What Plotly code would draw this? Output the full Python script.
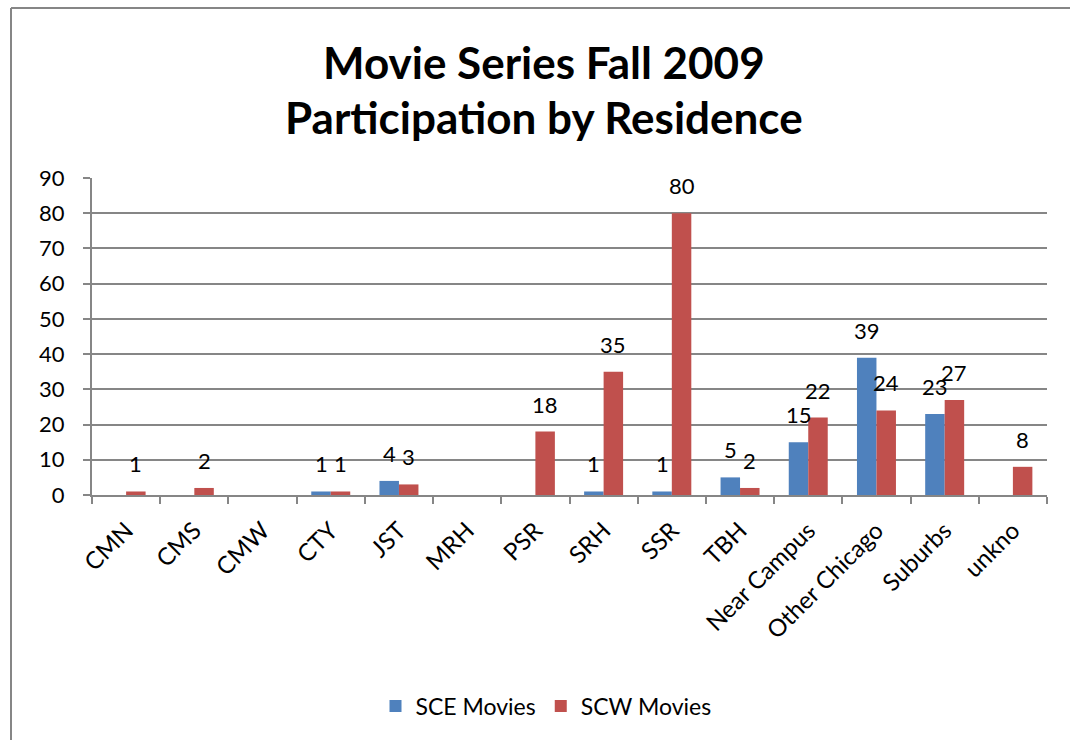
import plotly.graph_objects as go

categories = ["CMN", "CMS", "CMW", "CTY", "JST", "MRH", "PSR", "SRH", "SSR", "TBH",
              "Near Campus", "Other Chicago", "Suburbs", "unkno"]
sce_movies = [None, None, None, 1, 4, None, None, 1, 1, 5, 15, 39, 23, None]
scw_movies = [1, 2, None, 1, 3, None, 18, 35, 80, 2, 22, 24, 27, 8]
y_ticks = [0, 10, 20, 30, 40, 50, 60, 70, 80, 90]

BLUE = "#4F81BD"
RED = "#C0504D"
GRID = "#868686"
FONT = "Lato"

W, H = 1070, 740
ML, MR, MT, MB = 92, 23, 178, 245
plot_w = W - ML - MR
plot_h = H - MT - MB
bargap = 1.5 / 3.5
bar_px = plot_w / len(categories) * (1 - bargap) / 2


def py(pix):
    """pixel row -> paper y"""
    return (H - MB - pix) / plot_h


def px(pix):
    return (pix - ML) / plot_w


fig = go.Figure()
fig.add_trace(go.Bar(name="SCE Movies", x=categories, y=sce_movies,
                     marker=dict(color=BLUE, line=dict(width=0))))
fig.add_trace(go.Bar(name="SCW Movies", x=categories, y=scw_movies,
                     marker=dict(color=RED, line=dict(width=0))))

annotations = []
for vals, shift in ((sce_movies, -bar_px / 2), (scw_movies, bar_px / 2)):
    for c, v in zip(categories, vals):
        if v is None:
            continue
        annotations.append(dict(x=c, y=v, xref="x", yref="y", text=str(v),
                                showarrow=False, yanchor="bottom", xanchor="center",
                                xshift=shift, yshift=12,
                                font=dict(family=FONT, size=22, color="#000000")))

annotations.append(dict(text="<b>Movie Series Fall 2009</b>", xref="paper", yref="paper",
                        x=px(544), y=py(62), xanchor="center", yanchor="middle",
                        showarrow=False, font=dict(family=FONT, size=44, color="#000000")))
annotations.append(dict(text="<b>Participation by Residence</b>", xref="paper", yref="paper",
                        x=px(544), y=py(117), xanchor="center", yanchor="middle",
                        showarrow=False, font=dict(family=FONT, size=44, color="#000000")))

fig.update_layout(
    width=W, height=H,
    margin=dict(l=ML, r=MR, t=MT, b=MB),
    paper_bgcolor="white", plot_bgcolor="white",
    barmode="group", bargap=bargap, bargroupgap=0,
    font=dict(family=FONT, size=22, color="#000000"),
    showlegend=True,
    legend=dict(orientation="h", x=px(546), xanchor="center", xref="paper",
                y=py(706), yanchor="middle", yref="paper",
                font=dict(family=FONT, size=23), traceorder="normal",
                itemwidth=30),
    annotations=annotations,
    shapes=[
        dict(type="line", xref="paper", yref="paper", x0=px(11), x1=px(1075),
             y0=py(8), y1=py(8), line=dict(color=GRID, width=2)),
        dict(type="line", xref="paper", yref="paper", x0=px(11), x1=px(11),
             y0=py(745), y1=py(8), line=dict(color=GRID, width=2)),
    ],
)
fig.update_xaxes(type="category", showline=True, linecolor=GRID, linewidth=2,
                 ticks="outside", tickson="boundaries", ticklen=7, tickcolor=GRID,
                 tickwidth=2, tickangle=-45, showgrid=False, ticklabelstandoff=10,
                 tickfont=dict(family=FONT, size=24))
fig.update_yaxes(range=[0, 90], tickvals=y_ticks, showgrid=True, gridcolor=GRID,
                 gridwidth=2, showline=True, linecolor=GRID, linewidth=2,
                 ticks="outside", ticklen=7, tickcolor=GRID, tickwidth=2,
                 ticklabelstandoff=14,
                 zeroline=False, tickfont=dict(family=FONT, size=22))

fig.write_html("out.html", config={"displayModeBar": False},
               post_script="document.body.style.margin='0';document.body.style.overflow='hidden';")
